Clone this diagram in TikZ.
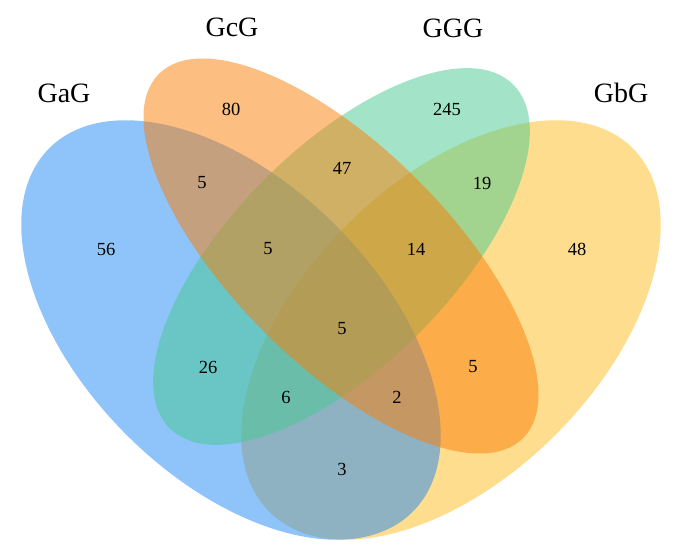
\documentclass[tikz,border=0pt]{standalone}
\usepackage{fontspec}
\setmainfont{Liberation Serif}
\usepackage{tikz}
\definecolor{gagblue}{RGB}{31,137,245}
\definecolor{gcgorange}{RGB}{251,125,5}
\definecolor{gggreen}{RGB}{71,201,145}
\definecolor{gbgyellow}{RGB}{253,187,29}
\tikzstyle{setfill} = [fill opacity=0.5]
\tikzstyle{setname} = [font=\fontsize{28}{30}\selectfont]
\tikzstyle{count} = [font=\fontsize{18.5}{20}\selectfont, text=black]

\begin{document}
\begin{tikzpicture}[x=1pt,y=1pt]
\useasboundingbox (0,0) rectangle (677,548);
% sets
\fill [setfill, gbgyellow, rotate around={45:(451,218)}] (451,218) ellipse [x radius=257pt, y radius=148pt];
\fill [setfill, gagblue, rotate around={-45:(231,218)}] (231,218) ellipse [x radius=257pt, y radius=148pt];
\fill [setfill, gggreen, rotate around={45:(341.5,291.5)}] (341.5,291.5) ellipse [x radius=243pt, y radius=109pt];
\fill [setfill, gcgorange, rotate around={-45:(341,292)}] (341,292) ellipse [x radius=257.5pt, y radius=108pt];
% set names
\node (GaG) [setname] at (64,455) {GaG};
\node (GcG) [setname] at (232,521) {GcG};
\node (GGG) [setname] at (453,520) {GGG};
\node (GbG) [setname] at (621,455) {GbG};
% counts
\node (c) [count] at (231,439) {80};
\node (g) [count] at (447,439) {245};
\node (cg) [count] at (342,380) {47};
\node (ac) [count] at (202,365) {5};
\node (gb) [count] at (482,365) {19};
\node (a) [count] at (106,299) {56};
\node (acg) [count] at (268,299) {5};
\node (cgb) [count] at (416,299) {14};
\node (b) [count] at (577,299) {48};
\node (acgb) [count] at (342,219) {5};
\node (ag) [count] at (208,181) {26};
\node (cb) [count] at (473,181) {5};
\node (agb) [count] at (286,151) {6};
\node (acb) [count] at (397,151) {2};
\node (ab) [count] at (342,79) {3};
\end{tikzpicture}
\end{document}
